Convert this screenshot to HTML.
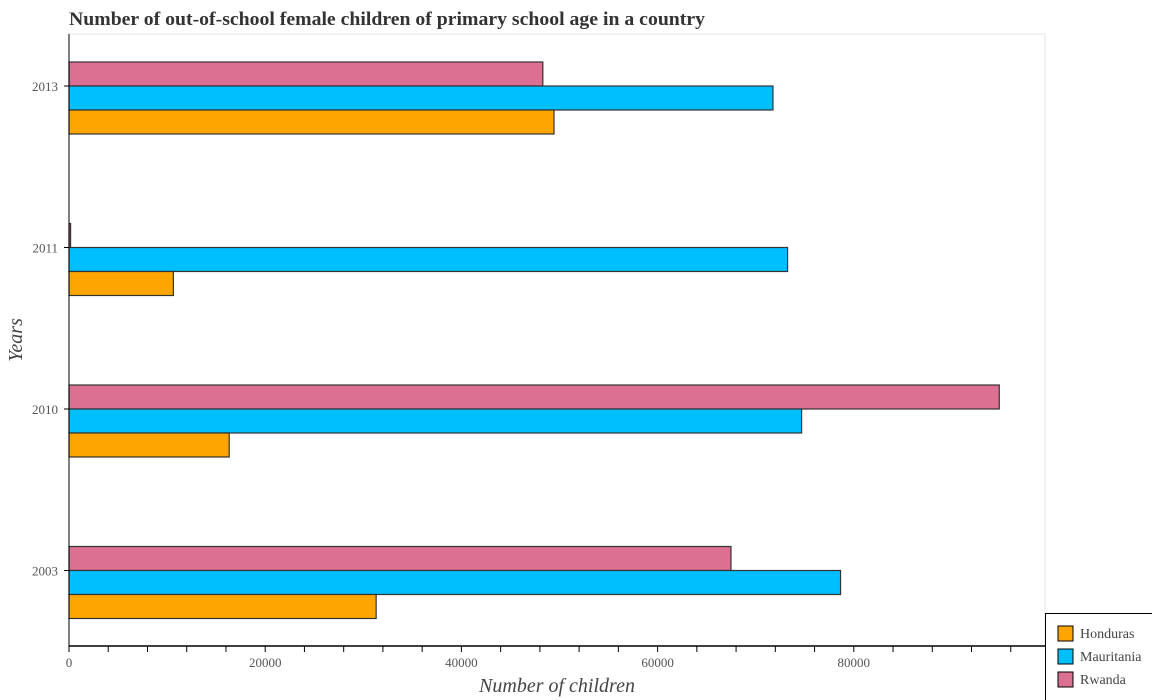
<!DOCTYPE html>
<html><head><meta charset="utf-8"><style>body{margin:0;background:#fff}svg{display:block}</style></head>
<body>
<svg id="chart" width="1152" height="700" xmlns="http://www.w3.org/2000/svg" font-family="Liberation Serif, serif">
<text x="69" y="25" font-size="19" font-weight="bold" fill="#333" textLength="636" lengthAdjust="spacingAndGlyphs">Number of out-of-school female children of primary school age in a country</text>
<rect x="69" y="34" width="976" height="612" fill="none" stroke="#e6e6e6"/>
<g id="bars"></g>
<g id="axes"></g>
<text x="557" y="692" font-size="20" font-style="italic" fill="#444" text-anchor="middle">Number of children</text>
<text transform="translate(22,340) rotate(-90)" font-size="20" font-style="italic" fill="#444" text-anchor="middle">Years</text>
<g>
<rect x="1045.5" y="613.5" width="110" height="90" fill="#fff" stroke="#000"/>
<rect x="1058" y="626" width="15" height="15" fill="#ffa500" stroke="#000"/>
<text x="1080" y="638" font-size="14" fill="#444">Honduras</text>
<rect x="1058" y="649" width="15" height="15" fill="#00bfff" stroke="#000"/>
<text x="1080" y="661" font-size="14" fill="#444">Mauritania</text>
<rect x="1058" y="672" width="15" height="15" fill="#db7093" stroke="#000"/>
<text x="1080" y="684" font-size="14" fill="#444">Rwanda</text>
</g>
</svg>
<script>
const years = ["2003","2010","2011","2013"];
const honduras = [31310, 16330, 10640, 49440];
const mauritania = [78650, 74680, 73250, 71760];
const rwanda = [67480, 94830, 160, 48300];
const xTicks = [0, 20000, 40000, 60000, 80000];
const NS = "http://www.w3.org/2000/svg";
const x0 = 69, pxPer = 196.2/20000;
function xs(v){ return x0 + v*pxPer; }
function yt(i){ return 570.5 - i*161.5; }
const bars = document.getElementById('bars');
const axes = document.getElementById('axes');
function mk(tag, attrs, parent){ const e=document.createElementNS(NS,tag); for(const k in attrs) e.setAttribute(k,attrs[k]); parent.appendChild(e); return e; }
const series = [
 {name:'rwanda', vals:rwanda, color:'#db7093', off:-24},
 {name:'mauritania', vals:mauritania, color:'#00bfff', off:0},
 {name:'honduras', vals:honduras, color:'#ffa500', off:24}
];
years.forEach((y,i)=>{
 series.forEach(s=>{
  const r = mk('rect',{x:x0, y:yt(i)+s.off, width:Math.max(1,xs(s.vals[i])-x0), height:24, fill:s.color, stroke:'#333', 'stroke-width':1.2}, bars);
  
  
 });
 const t = mk('line',{x1:x0-5,x2:x0,y1:yt(i),y2:yt(i),stroke:'#000'},axes);
 
 
 const l = mk('text',{x:x0-11,y:yt(i)+5,'font-size':13,fill:'#555','text-anchor':'end'},axes);
 l.textContent = y;
 
 
});
const ax = mk('line',{x1:x0,x2:x0,y1:34,y2:646,stroke:'#000'},axes);


const bx = mk('line',{x1:x0,x2:1045,y1:646,y2:646,stroke:'#000','stroke-width':1.5},axes);


for(let v=0; v<=96000; v+=4000){
 const mt = mk('line',{x1:xs(v),x2:xs(v),y1:646,y2:652,stroke:'#000'},axes);
 
 
}
xTicks.forEach(v=>{
 const l = mk('text',{x:xs(v),y:667,'font-size':13,fill:'#555','text-anchor':'middle'},axes);
 l.textContent = v;
 
 
});
</script>
</body></html>
